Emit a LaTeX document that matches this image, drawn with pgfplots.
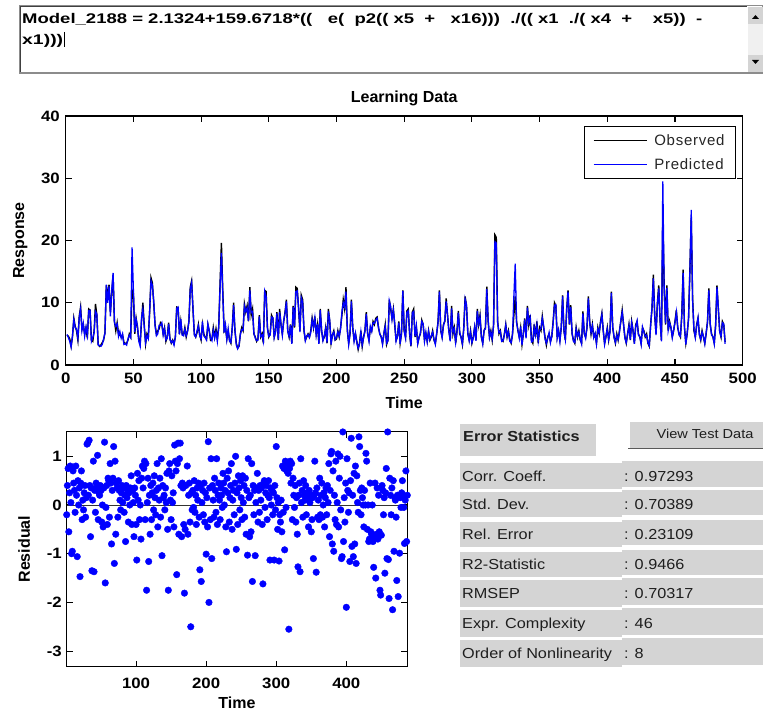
\documentclass[border=0pt]{standalone}
\usepackage{fontspec}
\setmainfont{Liberation Sans}
\newfontfamily\tickfont{Liberation Sans}[FakeStretch=1.12]
\newfontfamily\legfont{Liberation Sans}[LetterSpace=5]
\newfontfamily\tabfont{Liberation Sans}[FakeStretch=1.12]
\usepackage{graphicx}
\usepackage{pgfplots}
\usepackage{pgfplotstable}
\pgfplotsset{compat=1.18}
\definecolor{mblue}{RGB}{0,0,255}
\definecolor{panel}{RGB}{212,212,212}
\definecolor{txt}{RGB}{30,30,30}

\pgfplotstableread[row sep=\\]{
t obs pred res\\
1 4.8 4.9 -0.20\\ 2 4.6 4.4 0.40\\ 3 4.2 3.8 0.75\\ 4 3.0 2.9 -0.55\\ 5 4.5 4.7 0.25\\
6 7.5 7.3 0.80\\ 7 6.2 6.0 0.05\\ 8 5.5 5.8 -1.00\\ 9 4.0 4.3 -0.95\\ 10 7.8 7.6 0.70\\
11 9.3 9.0 0.45\\ 12 5.8 5.5 0.30\\ 13 6.5 6.7 -0.15\\ 14 5.0 4.6 0.80\\ 15 6.0 6.1 0.20\\
16 4.3 4.8 -1.06\\ 17 9.0 8.7 0.50\\ 18 8.8 8.8 0.00\\ 19 4.0 3.8 0.35\\ 20 3.8 4.4 -1.47\\
21 5.5 5.2 0.45\\ 22 9.8 8.6 0.70\\ 23 8.0 8.2 -0.30\\ 24 3.3 3.2 0.10\\ 25 3.0 3.1 -0.10\\
26 3.2 3.0 0.25\\ 27 3.6 3.3 0.40\\ 28 4.0 4.2 -0.25\\ 29 5.2 5.1 0.15\\ 30 12.8 12.9 1.25\\
31 11.0 10.0 1.27\\ 32 12.9 12.7 0.20\\ 33 8.5 7.8 1.33\\ 34 11.5 12.0 0.40\\ 35 14.5 14.8 -0.65\\
36 7.0 6.8 0.35\\ 37 5.5 6.2 -1.35\\ 38 6.8 6.6 0.10\\ 39 5.0 4.6 0.90\\ 40 4.8 5.4 -1.37\\
41 4.5 4.3 0.30\\ 42 4.8 5.0 -0.15\\ 43 3.6 3.3 0.45\\ 44 3.5 3.4 0.35\\ 45 3.5 3.2 1.02\\
46 4.0 4.2 -0.30\\ 47 5.0 4.8 0.25\\ 48 4.5 4.4 0.20\\ 49 12.0 18.9 0.40\\ 50 11.5 12.0 0.30\\
51 5.0 5.3 -0.35\\ 52 7.5 7.4 0.00\\ 53 6.0 6.3 -0.45\\ 54 4.0 3.8 0.35\\ 55 3.5 3.0 1.29\\
56 7.0 7.6 -1.60\\ 57 10.0 9.0 -0.05\\ 58 6.5 6.2 0.40\\ 59 3.4 3.6 -0.40\\ 60 5.0 4.7 0.55\\
61 4.5 4.2 0.50\\ 62 8.5 8.7 -0.25\\ 63 14.0 13.5 0.85\\ 64 13.2 12.8 0.45\\ 65 10.0 10.4 -0.80\\
66 6.5 6.3 0.30\\ 67 5.0 4.7 0.55\\ 68 5.5 5.0 1.20\\ 69 5.8 6.4 -1.20\\ 70 6.8 6.4 0.90\\
71 6.5 6.8 -0.60\\ 72 5.0 4.8 0.45\\ 73 6.0 5.8 0.35\\ 74 3.8 4.0 -0.25\\ 75 4.5 4.3 0.50\\
76 6.8 6.6 0.30\\ 77 4.2 4.1 0.10\\ 78 3.5 3.6 -0.10\\ 79 4.0 3.9 0.25\\ 80 3.4 3.2 0.40\\
81 4.5 4.5 0.05\\ 82 9.3 9.1 0.35\\ 83 9.2 9.3 -0.15\\ 84 5.0 4.9 0.20\\ 85 7.0 7.4 -0.75\\
86 5.0 4.8 0.40\\ 87 4.8 4.7 0.15\\ 88 6.0 5.8 0.30\\ 89 4.5 4.7 -0.35\\ 90 5.5 5.4 0.25\\
91 7.0 7.0 0.00\\ 92 12.5 12.2 0.35\\ 93 13.5 13.2 0.60\\ 94 9.0 9.2 -0.40\\ 95 5.0 4.8 0.30\\
96 4.5 4.5 0.05\\ 97 5.2 5.5 -0.65\\ 98 6.5 6.3 0.35\\ 99 4.8 4.7 0.20\\ 100 4.0 4.2 -0.40\\
101 6.5 7.0 -1.13\\ 102 5.0 4.7 0.65\\ 103 4.5 4.4 0.10\\ 104 4.2 4.0 0.50\\ 105 6.5 6.6 -0.30\\
106 5.5 5.5 0.00\\ 107 4.0 4.3 -0.70\\ 108 4.2 3.9 0.55\\ 109 6.0 5.6 0.80\\ 110 4.5 4.3 0.35\\
111 5.8 5.4 0.75\\ 112 4.2 3.8 0.90\\ 113 6.0 6.1 -0.30\\ 114 13.0 12.4 0.85\\ 115 19.6 18.0 -1.75\\
116 12.0 11.5 0.05\\ 117 5.5 5.2 0.55\\ 118 6.0 6.5 -1.16\\ 119 4.2 4.1 0.20\\ 120 5.5 5.8 -0.60\\
121 4.0 3.8 0.40\\ 122 3.5 3.6 -0.30\\ 123 6.0 5.8 0.25\\ 124 10.0 9.6 0.45\\ 125 5.5 5.6 -0.10\\
126 3.5 3.2 0.60\\ 127 2.7 2.6 0.15\\ 128 3.0 3.1 -0.20\\ 129 5.0 4.9 0.30\\ 130 6.0 5.7 0.85\\
131 5.5 5.6 -0.45\\ 132 9.8 9.5 0.35\\ 133 8.5 8.6 0.10\\ 134 9.5 9.2 0.55\\ 135 7.0 7.1 -0.25\\
136 12.5 12.0 0.95\\ 137 8.0 8.4 -1.04\\ 138 9.0 8.6 0.40\\ 139 5.0 5.1 0.15\\ 140 4.5 4.3 0.20\\
141 3.8 3.9 -0.10\\ 142 4.2 4.0 0.35\\ 143 8.0 7.8 0.05\\ 144 4.5 4.6 0.65\\ 145 5.0 4.8 -0.50\\
146 3.5 3.8 -1.75\\ 147 12.0 11.8 0.70\\ 148 11.8 11.0 0.85\\ 149 6.0 5.9 0.10\\ 150 4.5 4.6 -0.30\\
151 5.0 4.8 0.60\\ 152 8.0 7.7 0.05\\ 153 7.5 7.6 0.25\\ 154 4.5 4.4 -0.45\\ 155 5.5 5.3 1.23\\
156 8.5 8.3 0.90\\ 157 4.0 4.1 0.70\\ 158 9.0 8.5 -1.43\\ 159 6.5 6.6 0.85\\ 160 5.0 4.8 1.27\\
161 7.0 7.2 -0.60\\ 162 8.5 8.3 0.95\\ 163 10.5 10.2 1.27\\ 164 5.5 5.4 0.40\\ 165 4.5 4.6 -0.65\\
166 6.5 6.4 0.45\\ 167 3.5 3.4 0.35\\ 168 9.5 9.3 -0.40\\ 169 6.0 6.2 -1.81\\ 170 12.5 11.8 -0.50\\
171 12.3 11.9 0.40\\ 172 9.0 9.3 -3.35\\ 173 5.5 5.3 0.80\\ 174 11.2 10.8 -0.60\\ 175 10.5 10.1 0.20\\
176 5.5 5.6 0.45\\ 177 4.0 3.9 -0.35\\ 178 4.5 4.7 -2.50\\ 179 5.0 4.9 0.25\\ 180 4.5 4.4 -0.10\\
181 5.5 5.2 0.30\\ 182 7.5 7.3 -0.05\\ 183 6.0 6.1 0.50\\ 184 7.8 7.6 -0.15\\ 185 5.0 4.9 0.20\\
186 6.5 6.6 -0.40\\ 187 3.5 3.4 0.35\\ 188 9.0 8.8 0.10\\ 189 5.5 5.6 0.45\\ 190 4.0 3.9 -0.25\\
191 4.5 4.7 -1.33\\ 192 6.0 5.9 0.40\\ 193 3.5 3.6 -1.57\\ 194 9.0 8.6 0.05\\ 195 7.0 7.2 0.30\\
196 3.5 3.3 -0.20\\ 197 4.8 4.9 0.45\\ 198 5.5 5.3 -0.35\\ 199 4.0 4.1 0.25\\ 200 4.2 4.4 -1.01\\
201 5.5 5.3 0.15\\ 202 4.5 4.6 -0.45\\ 203 6.0 5.8 1.30\\ 204 8.0 8.5 -2.00\\ 205 10.5 10.0 0.35\\
206 9.0 9.3 -0.30\\ 207 12.5 11.8 0.95\\ 208 5.5 5.8 -1.10\\ 209 3.5 3.3 0.40\\ 210 5.0 5.1 0.10\\
211 10.5 10.2 -0.25\\ 212 6.0 6.1 0.55\\ 213 4.0 3.8 0.30\\ 214 5.0 5.1 -0.15\\ 215 3.8 3.6 0.95\\
216 2.5 2.7 -0.40\\ 217 3.5 3.4 0.20\\ 218 5.5 5.3 0.45\\ 219 3.0 3.2 0.10\\ 220 4.5 4.4 -0.30\\
221 5.5 5.4 0.35\\ 222 8.5 8.2 0.20\\ 223 5.0 5.1 -0.05\\ 224 4.0 3.8 0.65\\ 225 6.0 6.2 0.45\\
226 5.5 5.4 0.00\\ 227 7.0 6.8 0.30\\ 228 6.5 6.7 -0.45\\ 229 7.5 7.2 -0.96\\ 230 7.7 7.5 0.55\\
231 6.0 6.1 0.25\\ 232 5.0 4.9 0.70\\ 233 4.5 4.6 -0.35\\ 234 3.5 3.3 0.15\\ 235 5.0 5.1 0.40\\
236 6.5 6.2 0.85\\ 237 3.3 3.5 -0.50\\ 238 4.0 3.9 0.10\\ 239 10.5 10.3 0.30\\ 240 9.0 9.4 -0.20\\
241 7.5 7.3 0.45\\ 242 9.0 8.8 1.00\\ 243 6.5 6.7 -0.91\\ 244 4.0 3.8 0.25\\ 245 4.5 4.6 -0.40\\
246 7.0 6.8 0.60\\ 247 3.5 3.4 0.35\\ 248 5.0 5.1 -0.10\\ 249 12.0 11.9 0.50\\ 250 5.5 5.4 0.15\\
251 4.5 4.3 -0.30\\ 252 8.7 8.5 0.60\\ 253 9.0 8.7 0.05\\ 254 5.0 5.1 0.40\\ 255 3.0 3.1 -0.25\\
256 8.5 8.4 0.55\\ 257 9.0 8.6 -0.60\\ 258 4.5 4.6 0.30\\ 259 6.0 6.3 -1.03\\ 260 3.5 3.4 0.95\\
261 4.5 4.4 0.15\\ 262 5.0 5.2 -0.65\\ 263 7.2 7.0 0.20\\ 264 6.5 6.6 -0.55\\ 265 4.0 3.8 0.85\\
266 5.0 5.3 -1.57\\ 267 3.8 3.7 0.40\\ 268 5.5 5.4 -0.20\\ 269 4.0 4.1 0.30\\ 270 4.5 4.7 -1.04\\
271 5.5 5.3 0.05\\ 272 4.0 4.1 0.35\\ 273 3.5 3.3 0.65\\ 274 5.0 5.1 -0.35\\ 275 7.0 6.8 0.30\\
276 12.0 11.8 -0.15\\ 277 5.5 5.6 0.40\\ 278 4.5 4.4 0.10\\ 279 6.5 6.3 0.35\\ 280 7.0 7.2 -0.40\\
281 10.7 10.2 -1.62\\ 282 8.0 8.1 0.45\\ 283 5.5 5.4 0.50\\ 284 4.0 3.8 -0.05\\ 285 9.5 9.1 0.25\\
286 5.0 5.2 0.40\\ 287 6.0 5.8 -0.30\\ 288 3.5 3.6 0.20\\ 289 5.5 5.3 0.50\\ 290 8.7 8.4 0.15\\
291 5.0 5.3 -1.13\\ 292 4.5 4.4 0.35\\ 293 3.3 3.4 0.00\\ 294 6.0 5.8 0.30\\ 295 11.0 10.6 -0.20\\
296 9.5 9.7 0.25\\ 297 5.0 5.2 -1.13\\ 298 4.0 3.9 0.40\\ 299 5.5 5.3 -0.10\\ 300 3.5 3.6 1.20\\
301 4.5 4.3 0.15\\ 302 6.0 6.1 -0.50\\ 303 4.0 3.9 0.05\\ 304 9.0 8.7 -1.15\\ 305 6.5 6.6 -0.20\\
306 8.0 7.7 -0.35\\ 307 4.5 4.6 0.10\\ 308 3.5 3.4 -0.55\\ 309 5.5 5.6 0.80\\ 310 6.0 5.8 -0.15\\
311 12.6 12.2 0.75\\ 312 7.0 7.3 -0.92\\ 313 4.5 4.4 0.90\\ 314 5.5 5.3 -0.05\\ 315 4.0 4.2 0.70\\
316 6.5 6.3 0.85\\ 317 20.9 19.8 0.65\\ 318 20.5 19.6 -2.55\\ 319 7.0 6.8 0.75\\ 320 5.0 5.2 0.90\\
321 5.5 5.4 0.45\\ 322 4.0 3.8 0.85\\ 323 3.8 3.9 -0.30\\ 324 5.0 4.8 0.55\\ 325 6.5 6.4 0.20\\
326 4.5 4.6 -0.05\\ 327 5.5 5.3 0.40\\ 328 4.0 3.8 -0.35\\ 329 3.5 3.6 0.15\\ 330 5.0 4.9 -0.60\\
331 8.0 11.0 -1.27\\ 332 11.0 16.3 0.20\\ 333 7.0 6.8 0.45\\ 334 5.5 5.6 -1.37\\ 335 4.5 4.3 0.95\\
336 6.0 6.2 0.05\\ 337 3.3 3.2 0.30\\ 338 5.0 5.1 -0.25\\ 339 7.5 7.3 0.50\\ 340 4.5 4.3 0.20\\
341 9.5 9.2 0.10\\ 342 6.5 6.8 0.40\\ 343 8.0 7.6 -0.20\\ 344 4.0 3.7 0.25\\ 345 3.5 3.8 0.15\\
346 6.5 6.1 -0.45\\ 347 4.5 4.8 0.30\\ 348 7.0 6.5 0.05\\ 349 3.5 3.9 0.20\\ 350 6.0 5.6 -0.55\\
351 5.5 5.9 -0.30\\ 352 7.8 7.5 0.15\\ 353 6.0 6.2 -1.10\\ 354 4.5 4.2 0.20\\ 355 3.2 3.5 0.90\\
356 4.5 4.3 0.25\\ 357 5.0 5.2 -1.38\\ 358 3.8 3.6 0.35\\ 359 4.5 4.7 -0.25\\ 360 7.0 6.8 0.10\\
361 10.0 9.6 -0.30\\ 362 9.5 9.7 0.55\\ 363 4.5 4.3 -0.20\\ 364 5.5 5.6 0.20\\ 365 4.0 3.8 0.45\\
366 6.0 6.2 -0.25\\ 367 11.2 11.0 0.00\\ 368 5.5 5.4 0.25\\ 369 4.0 4.1 -0.45\\ 370 9.0 8.7 0.15\\
371 12.0 11.8 0.35\\ 372 6.5 6.6 -0.20\\ 373 9.6 9.3 0.40\\ 374 5.0 5.1 0.05\\ 375 4.0 3.8 0.85\\
376 3.5 3.6 -0.65\\ 377 6.0 5.8 0.30\\ 378 4.5 4.6 1.05\\ 379 5.5 5.3 1.10\\ 380 4.0 4.2 -0.80\\
381 3.5 3.4 0.70\\ 382 8.6 8.3 -0.95\\ 383 5.0 5.1 0.20\\ 384 4.5 4.3 -0.30\\ 385 6.0 6.1 0.90\\
386 11.0 10.7 -0.40\\ 387 7.0 6.8 0.05\\ 388 5.0 5.2 1.05\\ 389 6.5 6.3 -0.45\\ 390 4.5 4.4 0.55\\
391 5.0 5.1 1.00\\ 392 3.5 3.4 -0.10\\ 393 6.0 5.8 -1.10\\ 394 5.0 5.2 -1.06\\ 395 7.0 6.7 1.50\\
396 8.3 8.1 -0.75\\ 397 5.5 5.6 0.15\\ 398 3.5 3.3 -0.35\\ 399 4.5 4.6 0.45\\ 400 6.0 5.8 -2.10\\
401 4.0 4.1 0.95\\ 402 5.5 5.3 0.30\\ 403 11.8 11.6 -0.15\\ 404 6.0 6.2 0.25\\ 405 4.5 4.4 -1.16\\
406 3.5 3.6 0.50\\ 407 5.0 4.8 1.37\\ 408 4.0 4.1 -0.85\\ 409 5.5 5.3 0.20\\ 410 7.0 7.2 -1.06\\
411 8.8 8.5 0.65\\ 412 6.5 6.6 -0.80\\ 413 4.5 4.3 0.80\\ 414 3.5 3.6 -1.20\\ 415 5.0 4.9 0.60\\
416 6.5 6.3 0.05\\ 417 4.0 4.1 -0.15\\ 418 7.0 6.8 1.40\\ 419 5.5 5.6 1.20\\ 420 3.5 3.4 0.30\\
421 6.5 6.2 -0.20\\ 422 7.0 7.1 0.35\\ 423 5.0 4.8 0.15\\ 424 4.5 4.6 0.00\\ 425 3.5 3.3 -0.45\\
426 6.0 6.1 0.30\\ 427 5.5 5.3 0.00\\ 428 4.5 4.6 1.06\\ 429 5.0 4.8 0.90\\ 430 3.5 3.6 -0.50\\
431 3.0 3.1 0.00\\ 432 6.5 6.3 -0.75\\ 433 9.0 9.2 -0.70\\ 434 14.5 13.9 0.45\\ 435 8.0 8.2 -0.55\\
436 5.0 4.8 -0.60\\ 437 10.0 9.7 0.00\\ 438 12.8 12.3 -0.75\\ 439 7.0 7.2 -1.28\\ 440 4.0 3.8 -0.65\\
441 23.8 29.5 0.45\\ 442 12.8 12.0 -1.50\\ 443 6.5 6.7 -0.60\\ 444 12.8 12.4 0.35\\ 445 5.5 5.6 -0.70\\
446 7.0 6.8 0.20\\ 447 6.0 6.1 -0.55\\ 448 4.5 4.4 -1.75\\ 449 5.5 5.7 -1.85\\ 450 7.0 6.8 -0.62\\
451 8.8 8.5 0.40\\ 452 6.0 6.2 0.30\\ 453 5.0 4.8 -0.20\\ 454 4.5 4.6 0.15\\ 455 8.0 7.8 -1.40\\
456 15.3 14.8 0.25\\ 457 6.0 6.1 0.75\\ 458 3.5 3.3 -1.10\\ 459 5.0 5.2 1.50\\ 460 7.5 7.3 -1.12\\
461 15.3 14.9 -1.92\\ 462 23.6 24.9 0.55\\ 463 10.7 10.4 0.20\\ 464 5.5 5.7 -0.20\\ 465 4.5 4.4 0.35\\
466 6.5 6.3 -2.15\\ 467 7.5 7.6 0.50\\ 468 5.0 4.8 -0.95\\ 469 4.0 4.1 0.15\\ 470 5.5 5.3 0.10\\
471 4.5 4.6 -0.25\\ 472 3.5 3.4 -1.55\\ 473 5.0 5.2 0.20\\ 474 7.0 6.8 -1.88\\ 475 12.3 12.0 0.20\\
476 6.5 6.7 -0.99\\ 477 5.0 4.8 0.15\\ 478 4.5 4.6 -0.05\\ 479 3.5 3.4 0.25\\ 480 6.5 6.2 0.50\\
481 12.8 12.5 0.20\\ 482 9.0 9.2 -0.05\\ 483 5.5 5.3 -0.79\\ 484 4.5 4.6 0.10\\ 485 7.0 6.8 0.70\\
486 6.5 6.6 -0.75\\ 487 3.7 3.4 0.20\\
}\learn

\pgfplotsset{
  matlab/.style={
    scale only axis,
    tick align=inside,
    tick pos=both,
    major tick length=6pt,
    axis line style={line width=1.1pt},
    every tick/.append style={line width=1.1pt, black},
    tick label style={font=\tickfont\bfseries\fontsize{15}{15}\selectfont, inner sep=0pt},
    label style={font=\bfseries\fontsize{16}{16}\selectfont},
  }
}

\begin{document}
\begin{tikzpicture}
\useasboundingbox (0pt,0pt) rectangle (763pt,713pt);
\fill[white] (0pt,0pt) rectangle (763pt,713pt);

% ---- time series: Learning Data
\begin{axis}[matlab,
    at={(65.7pt,348pt)}, anchor=south west,
    width=677pt, height=249pt,
    xmin=0, xmax=500, ymin=0, ymax=40,
    xtick={0,50,...,500},
    xticklabels={0,50,100,150,200,250,300,350,400,450,500},
    ytick={0,10,20,30,40}, yticklabels={0,10,20,30,40},
    xticklabel style={yshift=-8pt},
    yticklabel style={xshift=-5.7pt},
    title={Learning Data},
    title style={font=\bfseries\fontsize{16}{16}\selectfont, at={(0.5,1)}, anchor=base, yshift=7pt},
    xlabel={Time},
    xlabel style={at={(axis description cs:0.5,-0.153)}, anchor=center},
    ylabel={Response},
    ylabel style={at={(axis description cs:-0.067,0.5)}, anchor=center},
    legend style={at={(1,1)}, anchor=north east, xshift=-6.7pt, yshift=-9.7pt,
      draw=black, line width=0.9pt, fill=white,
      font=\legfont\fontsize{15}{15}\selectfont, text=black!85,
      inner xsep=9pt, inner ysep=6pt, row sep=8pt, column sep=5pt},
    legend cell align=left,
    legend image code/.code={\draw[#1, line width=1.2pt] (0pt,0pt) -- (53pt,0pt);},
]
\addplot[black, line width=1.4pt] table[x=t, y=obs] {\learn};
\addlegendentry{Observed}
\addplot[mblue, line width=1.3pt] table[x=t, y=pred] {\learn};
\addlegendentry{Predicted}
\end{axis}

% ---- residuals
\begin{axis}[matlab,
    at={(66.7pt,46.3pt)}, anchor=south west,
    width=340.6pt, height=235pt,
    xmin=1, xmax=487, ymin=-3.32, ymax=1.505,
    xtick={100,200,300,400}, xticklabels={100,200,300,400},
    ytick={-3,-2,-1,0,1}, yticklabels={-3,-2,-1,0,1},
    xticklabel style={yshift=-11pt},
    yticklabel style={xshift=-4.7pt},
    xlabel={Time},
    xlabel style={at={(axis description cs:0.5,-0.153)}, anchor=center},
    ylabel={Residual},
    ylabel style={at={(axis description cs:-0.125,0.5)}, anchor=center},
]
\addplot[only marks, mark=*, mark size=3.3pt, mblue, mark options={fill=mblue, draw=mblue}]
  table[x=t, y=res] {\learn};
\addplot[black!80, line width=0.9pt] coordinates {(1,0) (487,0)};
\end{axis}

% ---- GUI parts (y measured downward from the top)
\begin{scope}[x=1pt, y=1pt, shift={(0,713)}, yscale=-1]
  % expression box
  \draw[black!45, line width=1.2pt] (19.5,5.5) rectangle (763,73);
  \draw[black!75, line width=0.8pt] (20.5,72) -- (20.5,6.5) -- (747,6.5);
  \fill[black!6] (748,7) rectangle (762.5,72);
  \fill[panel] (748,7) rectangle (762.5,24);
  \fill[panel] (748,55) rectangle (762.5,72);
  \fill[black] (752,19) -- (759,19) -- (755.5,15) -- cycle;
  \fill[black] (752,60) -- (759,60) -- (755.5,64) -- cycle;
  \node[anchor=base west, inner sep=0pt, font=\bfseries\fontsize{14}{14}\selectfont] at (22,24)
    {\resizebox{680pt}{\height}{Model\_2188 = 2.1324+159.6718*((\ \ \ e(\ \ p2((\ x5\ \ +\ \ \ x16)))\ \ ./((\ x1\ \ ./(\ x4\ \ +\ \ \ \ x5))\ \ -}};
  \node[anchor=base west, inner sep=0pt, font=\bfseries\fontsize{14}{14}\selectfont] at (22,45)
    {\resizebox{41pt}{\height}{x1)))}};
  \draw[black, line width=1pt] (64,32) -- (64,47);

  % error statistics panel
  \fill[panel] (460,424) rectangle (596,456);
  \node[anchor=base west, inner sep=0pt, text=txt, font=\tabfont\bfseries\fontsize{14.5}{14.5}\selectfont]
    at (463,441.5) {Error Statistics};
  \fill[panel] (630,422) rectangle (763,448);
  \draw[black!65, line width=1.5pt] (628,448.5) -- (763,448.5);
  \node[anchor=base, inner sep=0pt, text=txt, font=\tabfont\fontsize{13}{13}\selectfont]
    at (705,439) {View Test Data};

  \foreach \lab/\val/\ya/\yb in {
      Corr. Coeff./: 0.97293/463/489,
      Std. Dev./: 0.70389/492/517,
      Rel. Error/: 0.23109/522/547,
      R2-Statistic/: 0.9466/552/577,
      RMSEP/: 0.70317/580/607,
      Expr. Complexity/: 46/610/637,
      Order of Nonlinearity/: 8/640/667} {
    \fill[panel] (460,\ya) rectangle (622,\yb);
    \fill[panel] (622,\ya-2.5) rectangle (763,\yb-2.5);
    \node[anchor=base west, inner sep=0pt, text=txt, font=\tabfont\fontsize{14.5}{14.5}\selectfont]
      at (462,{(\ya+\yb)/2+5.2}) {\lab};
    \node[anchor=base west, inner sep=0pt, text=txt, font=\tabfont\fontsize{14.5}{14.5}\selectfont]
      at (624,{(\ya+\yb)/2+5.2}) {\val};
  }
\end{scope}
\end{tikzpicture}
\end{document}
